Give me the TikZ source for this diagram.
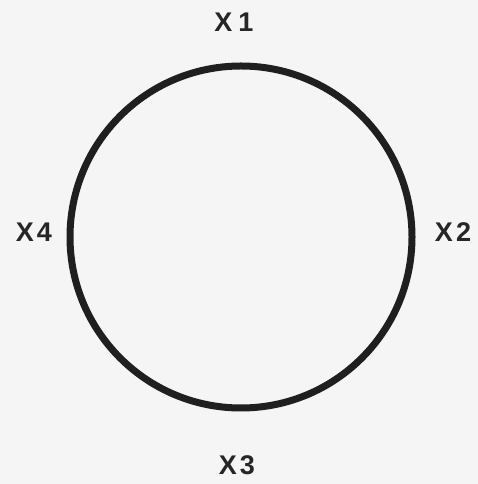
\documentclass[tikz,border=0pt]{standalone}
\usepackage{fontspec}
\setmainfont{Liberation Sans}
\begin{document}
\begin{tikzpicture}[x=1pt,y=1pt,
  lbl/.style={font=\fontsize{27}{27}\selectfont\bfseries, text=black!85, inner sep=0pt}]
\fill[black!4] (0,0) rectangle (478,484);
\useasboundingbox (0,0) rectangle (478,484);
\node[circle, draw=black!88, line width=7pt, minimum size=342pt, inner sep=0pt] (c) at (241,247) {};
\node[lbl] (x1) at (234,462) {X\hspace{6pt}1};
\node[lbl] (x2) at (453,252) {X\hspace{3pt}2};
\node[lbl] (x3) at (237,19) {X\hspace{3pt}3};
\node[lbl] (x4) at (34,252) {X\hspace{3pt}4};
\end{tikzpicture}
\end{document}
